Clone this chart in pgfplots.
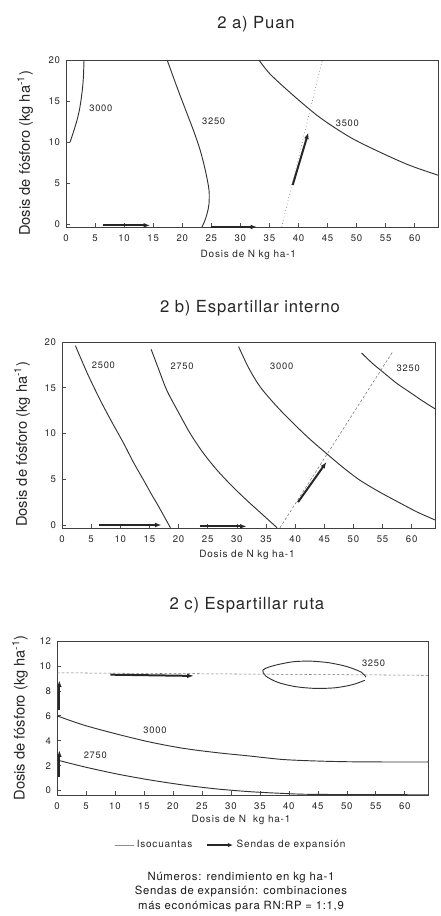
\documentclass[border=0pt]{standalone}
\usepackage{pgfplots}
\pgfplotsset{compat=1.18}
\usepackage{fontspec}
\setmainfont{TeX Gyre Heros}
\usetikzlibrary{arrows.meta}

\pgfplotsset{
 myax/.style={
  scale only axis, clip=false, xmin=0, xmax=64, xtick={0,5,...,60},
  tick align=inside, xtick pos=bottom, ytick pos=left,
  major tick length=3pt,
  axis line style={black!75, line width=0.6pt},
  tick style={black!70, line width=0.5pt},
  /pgf/number format/assume math mode=true,
  ticklabel style={font=\fontsize{7.2}{8}\selectfont\addfontfeature{LetterSpace=8}, text=black!85},
  xticklabel style={yshift=-2pt},
  yticklabel style={xshift=-1pt},
  xlabel={Dosis de N kg ha-1},
  ylabel={Dosis de fósforo (kg ha\textsuperscript{-1})},
  xlabel style={font=\fontsize{7.5}{9}\selectfont\addfontfeature{LetterSpace=8}, text=black!85, anchor=center},
  ylabel style={font=\fontsize{11}{13}\selectfont, text=black!85, anchor=center},
 },
}
\tikzset{
 iso/.style={black!80, line width=0.7pt, smooth, mark=none},
 senda/.style={black!85, line width=1.5pt, -{Latex[length=5pt,width=3.6pt]}, mark=none},
 expl/.style={black!55, dash pattern=on 2pt off 1.5pt, line width=0.4pt, mark=none},
 clab/.style={font=\fontsize{7}{8}\selectfont\addfontfeature{LetterSpace=8}, text=black!85},
}
\newcommand{\ttl}{\fontsize{12.5}{15}\selectfont\addfontfeature{LetterSpace=5}}

\begin{document}
\begin{tikzpicture}
\path[use as bounding box] (0,0) rectangle (330.75pt,-687pt);

\node[font=\ttl, text=black!85] at (192pt,-18pt) {2 a) Puan};
\node[font=\ttl, text=black!85] at (187.5pt,-231pt) {2 b) Espartillar interno};
\node[font=\ttl, text=black!85] at (185.25pt,-453.75pt) {2 c) Espartillar ruta};

% ---------------- a) Puan
\begin{axis}[myax, at={(49.5pt,-170.25pt)}, anchor=south west,
  width=279pt, height=125.25pt, ymin=-0.3, ymax=20, ytick={0,5,...,20},
  xlabel style={at={(axis description cs:0.49,-0.168)}},
  ylabel style={at={(axis description cs:-0.11,0.44)}}]
\addplot[iso] coordinates {(0.7,10) (1.3,11.3) (1.9,12.7) (2.3,13.9) (2.6,15.2) (2.86,16.7) (3.0,18) (3.1,20)};
\addplot[iso] coordinates {(17.4,20) (19.2,16.5) (20.6,13.9) (22.0,11.3) (23.1,9.0) (24.0,6.5) (24.6,4.2) (24.6,2.5) (24.3,1.4) (23.9,0.5) (23.4,-0.3)};
\addplot[iso] coordinates {(33.2,20) (35.1,18.3) (39.1,15.7) (43.7,13.0) (48.9,10.6) (54,8.8) (59.1,7.2) (64,6.0)};
\addplot[black!55, dotted, line width=0.5pt] coordinates {(37.1,-0.3) (44.1,20)};
\addplot[senda] coordinates {(39.0,4.8) (41.7,11.2)};
\addplot[senda] coordinates {(6.3,-0.1) (14.5,-0.1)};
\addplot[senda] coordinates {(24.9,-0.3) (32.9,-0.3)};
\node[clab] at (axis cs:6.0,14.1) {3000};
\node[clab] at (axis cs:25.4,12.6) {3250};
\node[clab] at (axis cs:48.4,12.25) {3500};
\end{axis}

% ---------------- b) Espartillar interno
\begin{axis}[myax, at={(46.5pt,-396pt)}, anchor=south west,
  width=279.75pt, height=139.5pt, ymin=-0.33, ymax=20, ytick={0,5,...,20},
  xlabel style={at={(axis description cs:0.496,-0.145)}},
  ylabel style={at={(axis description cs:-0.107,0.45)}}]
\addplot[iso] coordinates {(2.3,19.6) (4.4,16.5) (6.6,13.6) (8.6,11.2) (10.6,8.9) (12.3,6.8) (14.0,4.9) (15.4,3.3) (16.6,2.0) (18.6,-0.3)};
\addplot[iso] coordinates {(15.3,19.2) (16.6,17.0) (18.0,14.7) (20.0,12.3) (22.0,10.0) (24.2,7.9) (26.6,6.0) (29.1,4.3) (31.7,2.7) (34.3,1.2) (36.9,-0.3)};
\addplot[iso] coordinates {(30.3,19.5) (32.0,17.2) (34.0,15.1) (36.8,13.0) (39.7,11.1) (42.5,9.4) (45.4,7.8) (48.2,6.3) (51.1,4.9) (54.5,3.6) (58.0,2.4) (61,1.4) (64,0.55)};
\addplot[iso] coordinates {(51.4,18.8) (53.2,17.7) (55.1,16.7) (57.4,15.5) (59.7,14.5) (62,13.5) (64,12.7)};
\addplot[expl] coordinates {(37.4,-0.3) (56.8,19.0)};
\addplot[senda] coordinates {(40.5,2.5) (45.4,6.9)};
\addplot[senda] coordinates {(6.3,0) (17.1,0)};
\addplot[senda] coordinates {(23.6,-0.15) (31.7,-0.15)};
\node[clab] at (axis cs:7.1,17.5) {2500};
\node[clab] at (axis cs:20.6,17.3) {2750};
\node[clab] at (axis cs:37.7,17.3) {3000};
\node[clab] at (axis cs:59.4,17.1) {3250};
\end{axis}

% ---------------- c) Espartillar ruta
\begin{axis}[myax, at={(42.75pt,-596.25pt)}, anchor=south west,
  width=278.25pt, height=115.5pt, ymin=-0.35, ymax=12, ytick={0,2,...,12},
  xlabel={Dosis de N\ \ kg ha-1},
  xlabel style={at={(axis description cs:0.496,-0.162)}},
  ylabel style={at={(axis description cs:-0.10,0.5)}},
  legend style={at={(axis description cs:0.47,-0.325)}, anchor=center, draw=none, fill=none,
    legend columns=2, font=\fontsize{7.5}{9}\selectfont\addfontfeature{LetterSpace=8}, text=black!85,
    /tikz/every even column/.append style={column sep=8pt}}]
\addplot[iso, forget plot] coordinates {(0,6.0) (4.6,5.26) (10.3,4.54) (16,3.9) (21.7,3.4) (27.5,3.05) (33.2,2.78) (38.9,2.5) (44.6,2.38) (50,2.32) (56,2.3) (64,2.3)};
\addplot[iso, forget plot] coordinates {(0,2.46) (4.6,1.92) (10.3,1.34) (16,0.86) (21.7,0.46) (27.5,0.14) (33.2,-0.08) (38.9,-0.22) (44.6,-0.3) (64,-0.33)};
\addplot[iso, forget plot] coordinates {(53.3,9.1) (52.5,9.5) (50,9.95) (47,10.25) (44,10.38) (41,10.35) (38.5,10.15) (36.5,9.9) (35.5,9.65) (36,9.2) (38,8.7) (41,8.35) (44.5,8.2) (48,8.25) (51,8.5) (53.1,8.85)};
\addplot[expl, forget plot] coordinates {(0,9.45) (64,9.25)};
\addplot[senda, forget plot] coordinates {(9.2,9.3) (23.6,9.2)};
\addplot[senda, forget plot] coordinates {(0.4,6.45) (0.4,8.85)};
\addplot[senda, forget plot] coordinates {(0.4,1.1) (0.4,3.25)};
\node[clab] at (axis cs:16.9,4.86) {3000};
\node[clab] at (axis cs:6.6,2.8) {2750};
\node[clab] at (axis cs:54.6,10.2) {3250};
\addlegendimage{legend image code/.code={\draw[black!45, line width=0.6pt] (0pt,0pt) -- (14pt,0pt);}}
\addlegendentry{Isocuantas}
\addlegendimage{legend image code/.code={\draw[black!85, line width=1.3pt, -{Latex[length=4pt,width=3.2pt]}] (0pt,0pt) -- (20pt,0pt);}}
\addlegendentry{Sendas de expansión}
\end{axis}

\node[align=center, font=\fontsize{8.5}{10.9}\selectfont\addfontfeature{LetterSpace=6}, text=black!90] at (180.75pt,-669pt)
 {Números: rendimiento en kg ha-1\\Sendas de expansión: combinaciones\\más económicas para RN:RP = 1:1,9};
\end{tikzpicture}
\end{document}
